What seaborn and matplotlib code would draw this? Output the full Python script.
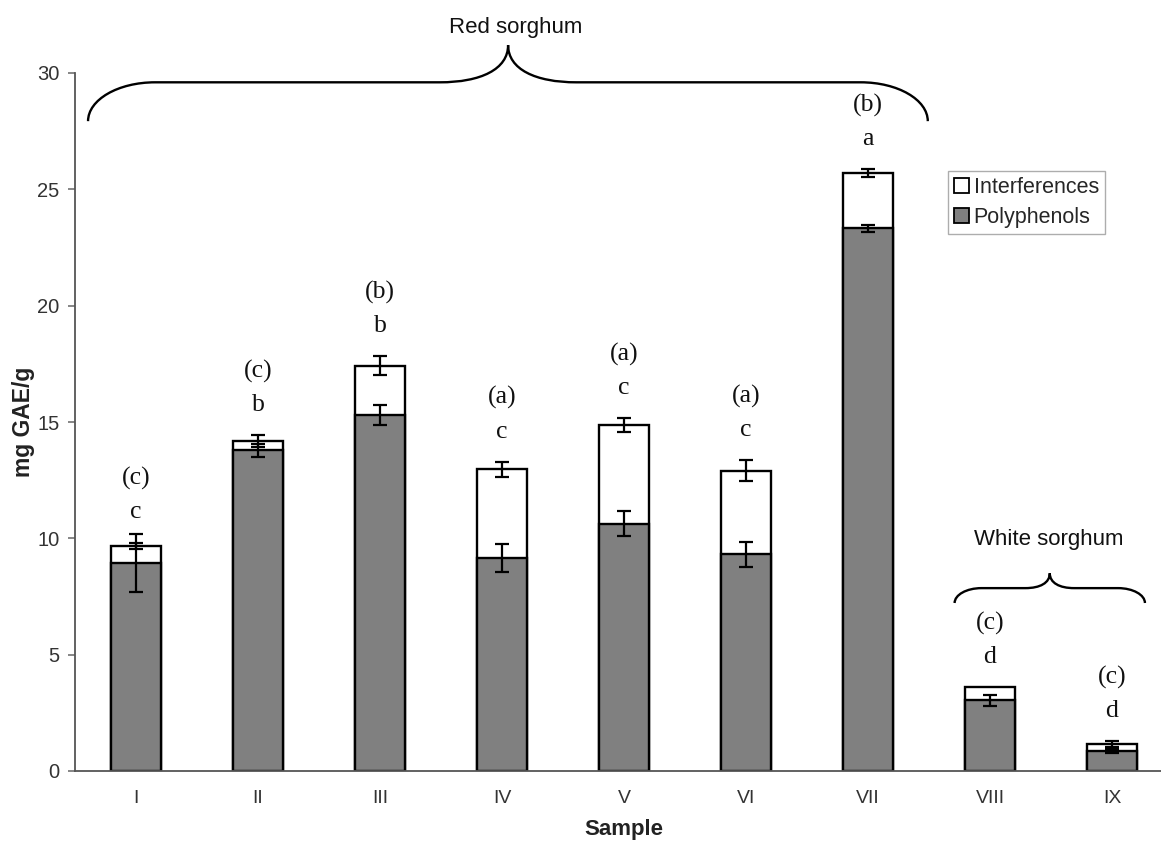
import numpy as np
import pandas as pd
import matplotlib
matplotlib.use("Agg")
import matplotlib.pyplot as plt
import seaborn as sns
from matplotlib.path import Path
from matplotlib.patches import PathPatch, Patch

# ---------------- data ----------------
samples = ["I", "II", "III", "IV", "V", "VI", "VII", "VIII", "IX"]
polyphenols = [8.94, 13.78, 15.29, 9.14, 10.63, 9.31, 23.32, 3.04, 0.86]
interferences = [0.74, 0.40, 2.13, 3.83, 4.24, 3.59, 2.37, 0.57, 0.30]
poly_err = [1.23, 0.28, 0.44, 0.60, 0.54, 0.55, 0.15, 0.24, 0.08]
total_err = [0.14, 0.25, 0.40, 0.32, 0.29, 0.45, 0.17, 0.0, 0.12]
letters = ["c", "b", "b", "c", "c", "c", "a", "d", "d"]
paren_letters = ["(c)", "(c)", "(b)", "(a)", "(a)", "(a)", "(b)", "(c)", "(c)"]

total = [p + i for p, i in zip(polyphenols, interferences)]
df = pd.DataFrame({"Sample": samples, "Polyphenols": polyphenols, "Total": total})

sns.set_theme(style="white")
plt.rcParams["font.family"] = ["Liberation Sans", "DejaVu Sans"]

fig = plt.figure(figsize=(11.61, 8.43), dpi=100)
ax = fig.add_axes([75 / 1161, 1 - 771 / 843, 1098 / 1161, 698 / 843])

bw = 0.41
sns.barplot(data=df, x="Sample", y="Total", color="white", edgecolor="black",
            linewidth=1.7, width=bw, ax=ax, saturation=1)
sns.barplot(data=df, x="Sample", y="Polyphenols", color="#808080", edgecolor="black",
            linewidth=1.7, width=bw, ax=ax, saturation=1)

xs = np.arange(len(samples))
pe = np.array(poly_err)
te = np.array(total_err)
ax.errorbar(xs, polyphenols, yerr=pe, fmt="none", ecolor="black", elinewidth=1.6,
            capsize=5, capthick=1.6, zorder=5)
m = te > 0
ax.errorbar(xs[m], np.array(total)[m], yerr=te[m], fmt="none", ecolor="black",
            elinewidth=1.6, capsize=5, capthick=1.6, zorder=5)

# significance letters
serif = ["Liberation Serif", "DejaVu Serif"]
for x, t, e, l, pl in zip(xs, total, total_err, letters, paren_letters):
    y0 = t + e + 1.3
    ax.text(x, y0, l, ha="center", va="center", fontsize=18.5, family=serif, color="#111111")
    ax.text(x, y0 + 1.45, pl, ha="center", va="center", fontsize=18.5, family=serif,
            color="#111111")

# axes styling
ax.set_xlim(-0.5, 8.5)
ax.set_ylim(0, 30)
ax.set_yticks([0, 5, 10, 15, 20, 25, 30])
for s in ["top", "right"]:
    ax.spines[s].set_visible(False)
for s in ["left", "bottom"]:
    ax.spines[s].set_color("#555555")
    ax.spines[s].set_linewidth(1.3)
ax.set_xticks(xs)
ax.set_xticklabels(samples)
ax.set_xticks(np.arange(-0.5, 9.0, 1.0), minor=True)
ax.tick_params(axis="x", which="major", length=0, pad=14, labelsize=14, labelcolor="#333333")
ax.tick_params(axis="x", which="minor", length=5, color="#999999", direction="out")
ax.tick_params(axis="y", which="major", length=5, color="#777777", direction="out",
               left=True, labelsize=14.5, labelcolor="#333333", pad=6)
ax.set_xlabel("Sample", fontsize=16, fontweight="bold", labelpad=8, color="#222222")
ax.set_ylabel("mg GAE/g", fontsize=16.5, fontweight="bold", labelpad=2, color="#222222")


def brace(ax, x0, x1, xm, y_end, y_line, y_peak, corner, mid, lw=1.7):
    k = 0.5523
    dy = y_line - y_end
    verts = [
        (x0, y_end), (x0, y_end + k * dy), (x0 + (1 - k) * corner, y_line), (x0 + corner, y_line),
        (xm - mid, y_line),
        (xm - mid * 0.4, y_line), (xm, y_line + (y_peak - y_line) * 0.35), (xm, y_peak),
        (xm, y_line + (y_peak - y_line) * 0.35), (xm + mid * 0.4, y_line), (xm + mid, y_line),
        (x1 - corner, y_line),
        (x1 - (1 - k) * corner, y_line), (x1, y_end + k * dy), (x1, y_end),
    ]
    codes = [Path.MOVETO, Path.CURVE4, Path.CURVE4, Path.CURVE4,
             Path.LINETO,
             Path.CURVE4, Path.CURVE4, Path.CURVE4,
             Path.CURVE4, Path.CURVE4, Path.CURVE4,
             Path.LINETO,
             Path.CURVE4, Path.CURVE4, Path.CURVE4]
    p = PathPatch(Path(verts, codes), facecolor="none", edgecolor="black", lw=lw,
                  clip_on=False, zorder=6)
    ax.add_patch(p)


brace(ax, -0.393, 6.49, 3.05, 27.93, 29.6, 31.2, 0.55, 0.56)
ax.text(3.11, 31.97, "Red sorghum", ha="center", va="center", fontsize=16, clip_on=False,
        color="#111111")
brace(ax, 6.71, 8.27, 7.49, 7.22, 7.86, 8.5, 0.22, 0.2)
ax.text(7.48, 9.93, "White sorghum", ha="center", va="center", fontsize=16, color="#111111")

handles = [Patch(facecolor="white", edgecolor="black", linewidth=1.3, label="Interferences"),
           Patch(facecolor="#808080", edgecolor="black", linewidth=1.3, label="Polyphenols")]
leg = ax.legend(handles=handles, loc="upper left", bbox_to_anchor=(0.795, 0.860),
                borderaxespad=0, fontsize=15.5, frameon=True, fancybox=False,
                handlelength=0.7, handleheight=0.7, handletextpad=0.2,
                borderpad=0.3, labelspacing=0.4)
leg.get_frame().set_edgecolor("#999999")
leg.get_frame().set_linewidth(1.0)

fig.savefig("out.png", dpi=100)
